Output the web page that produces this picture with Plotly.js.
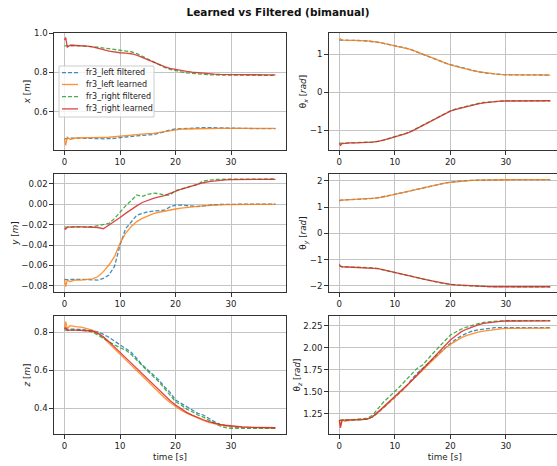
<!DOCTYPE html>
<html><head><meta charset="utf-8">
<script src="https://cdn.plot.ly/plotly-3.0.1.min.js"></script>
<style>html,body{margin:0;padding:0;overflow:hidden;background:#fff}#chart{width:562px;height:466px}</style>
</head><body><div id="chart"></div><script>
// time grid (s)
const T = [0,0.2,0.5,1,2,3,4,5,6,7,8,9,10,11,12,13,14,15,16,17,18,19,20,21,22,23,24,25,26,27,28,29,30,32,34,36,38];

const seriesNames = ["fr3_left filtered","fr3_left learned","fr3_right filtered","fr3_right learned"];
const seriesColors = ["#1f77b4","#ff7f0e","#2ca02c","#d62728"];

// x [m]
const xLeftFiltered  = [0.462,0.463,0.464,0.465,0.466,0.466,0.466,0.465,0.463,0.462,0.462,0.464,0.468,0.472,0.475,0.477,0.479,0.481,0.484,0.490,0.499,0.507,0.512,0.514,0.516,0.517,0.518,0.519,0.519,0.518,0.517,0.516,0.515,0.515,0.514,0.514,0.514];
const xLeftLearned   = [0.462,0.428,0.470,0.458,0.466,0.466,0.467,0.467,0.468,0.469,0.470,0.473,0.476,0.479,0.482,0.484,0.486,0.488,0.490,0.494,0.500,0.505,0.509,0.511,0.512,0.513,0.514,0.514,0.514,0.515,0.515,0.515,0.515,0.515,0.515,0.515,0.515];
const xRightFiltered = [0.935,0.936,0.936,0.937,0.937,0.936,0.934,0.931,0.928,0.924,0.920,0.917,0.914,0.910,0.905,0.896,0.882,0.866,0.851,0.838,0.826,0.816,0.808,0.803,0.798,0.795,0.792,0.790,0.788,0.787,0.786,0.786,0.786,0.786,0.785,0.785,0.785];
const xRightLearned  = [0.965,0.978,0.928,0.938,0.937,0.936,0.934,0.930,0.924,0.916,0.908,0.903,0.900,0.898,0.895,0.888,0.876,0.862,0.849,0.838,0.829,0.821,0.815,0.810,0.805,0.801,0.798,0.795,0.793,0.791,0.790,0.789,0.789,0.788,0.788,0.787,0.787];

// theta_x [rad]
const txLeftFiltered  = [1.37,1.37,1.37,1.365,1.36,1.36,1.355,1.345,1.335,1.31,1.28,1.25,1.22,1.195,1.16,1.11,1.05,0.99,0.93,0.875,0.825,0.77,0.725,0.685,0.645,0.605,0.57,0.54,0.51,0.49,0.475,0.465,0.457,0.452,0.45,0.45,0.45];
const txLeftLearned   = [1.37,1.40,1.37,1.37,1.365,1.36,1.355,1.35,1.335,1.315,1.285,1.255,1.225,1.20,1.17,1.12,1.06,1.00,0.94,0.88,0.83,0.77,0.72,0.675,0.635,0.60,0.565,0.54,0.515,0.495,0.48,0.47,0.46,0.455,0.452,0.45,0.45];
const txRightFiltered = [-1.34,-1.345,-1.34,-1.34,-1.335,-1.33,-1.33,-1.325,-1.31,-1.29,-1.26,-1.21,-1.17,-1.13,-1.08,-1.02,-0.945,-0.865,-0.785,-0.705,-0.63,-0.555,-0.492,-0.44,-0.40,-0.362,-0.328,-0.298,-0.272,-0.255,-0.242,-0.235,-0.231,-0.228,-0.227,-0.226,-0.226];
const txRightLearned  = [-1.34,-1.40,-1.35,-1.34,-1.335,-1.335,-1.33,-1.325,-1.315,-1.295,-1.265,-1.22,-1.175,-1.135,-1.09,-1.03,-0.955,-0.875,-0.795,-0.715,-0.64,-0.565,-0.50,-0.45,-0.41,-0.37,-0.335,-0.305,-0.28,-0.26,-0.245,-0.237,-0.232,-0.229,-0.227,-0.226,-0.226];

// y [m]
const yLeftFiltered  = [-0.0734,-0.0740,-0.0740,-0.0738,-0.0738,-0.0738,-0.0740,-0.0742,-0.0745,-0.0728,-0.0695,-0.0610,-0.0400,-0.0240,-0.0170,-0.0108,-0.0090,-0.0074,-0.0066,-0.0060,-0.0058,-0.0025,-0.0008,-0.0008,-0.0012,-0.0018,-0.0022,-0.0015,-0.0008,-0.0004,-0.0002,0.0000,0.0000,0.0001,0.0001,0.0001,0.0001];
const yLeftLearned   = [-0.0740,-0.0810,-0.0745,-0.0760,-0.0742,-0.0745,-0.0738,-0.0732,-0.0712,-0.0662,-0.0597,-0.0515,-0.0384,-0.0285,-0.0220,-0.0170,-0.0138,-0.0111,-0.0092,-0.0078,-0.0066,-0.0055,-0.0046,-0.0038,-0.0030,-0.0025,-0.0020,-0.0015,-0.0010,-0.0007,-0.0005,-0.0003,-0.0002,0.0000,0.0000,0.0000,0.0000];
const yRightFiltered = [-0.0225,-0.0225,-0.0222,-0.0222,-0.0222,-0.0222,-0.0222,-0.0220,-0.0210,-0.0197,-0.0188,-0.0140,-0.0072,-0.0015,0.0035,0.0092,0.0078,0.0098,0.0110,0.0105,0.0092,0.0090,0.0135,0.0150,0.0164,0.0180,0.0197,0.0230,0.0240,0.0244,0.0246,0.0247,0.0248,0.0249,0.0249,0.0249,0.0249];
const yRightLearned  = [-0.0235,-0.0245,-0.0225,-0.0222,-0.0222,-0.0222,-0.0222,-0.0222,-0.0228,-0.0240,-0.0205,-0.0170,-0.0130,-0.0089,-0.0050,-0.0015,0.0018,0.0040,0.0058,0.0072,0.0085,0.0108,0.0130,0.0148,0.0164,0.0181,0.0197,0.0212,0.0223,0.0230,0.0236,0.0240,0.0243,0.0245,0.0246,0.0246,0.0246];

// theta_y [rad]
const tyLeftFiltered  = [1.24,1.26,1.265,1.27,1.275,1.285,1.295,1.305,1.325,1.355,1.395,1.44,1.485,1.525,1.565,1.62,1.675,1.725,1.775,1.825,1.875,1.91,1.945,1.97,1.99,2.005,2.015,2.025,2.03,2.035,2.04,2.04,2.04,2.04,2.04,2.04,2.04];
const tyLeftLearned   = [1.21,1.27,1.265,1.27,1.275,1.285,1.295,1.305,1.32,1.35,1.39,1.435,1.48,1.52,1.56,1.615,1.67,1.72,1.77,1.82,1.87,1.905,1.94,1.965,1.99,2.005,2.015,2.025,2.03,2.035,2.04,2.04,2.04,2.04,2.04,2.04,2.04];
const tyRightFiltered = [-1.22,-1.26,-1.27,-1.275,-1.28,-1.285,-1.29,-1.295,-1.31,-1.345,-1.395,-1.44,-1.485,-1.535,-1.585,-1.635,-1.685,-1.735,-1.785,-1.83,-1.875,-1.91,-1.945,-1.965,-1.98,-1.995,-2.005,-2.015,-2.02,-2.025,-2.03,-2.03,-2.03,-2.03,-2.03,-2.03,-2.03];
const tyRightLearned  = [-1.18,-1.25,-1.27,-1.275,-1.28,-1.285,-1.29,-1.295,-1.305,-1.34,-1.39,-1.435,-1.48,-1.53,-1.58,-1.63,-1.68,-1.73,-1.78,-1.825,-1.87,-1.905,-1.94,-1.96,-1.975,-1.99,-2.0,-2.01,-2.02,-2.025,-2.03,-2.03,-2.03,-2.03,-2.03,-2.03,-2.03];

// z [m]
const zLeftFiltered  = [0.818,0.818,0.818,0.818,0.817,0.815,0.812,0.808,0.803,0.789,0.774,0.754,0.733,0.712,0.695,0.663,0.628,0.602,0.575,0.549,0.514,0.484,0.444,0.426,0.409,0.391,0.374,0.365,0.347,0.330,0.316,0.307,0.302,0.299,0.298,0.298,0.298];
const zLeftLearned   = [0.821,0.856,0.820,0.835,0.830,0.827,0.820,0.812,0.796,0.772,0.742,0.713,0.684,0.656,0.628,0.599,0.570,0.541,0.512,0.484,0.456,0.431,0.409,0.390,0.374,0.360,0.347,0.336,0.326,0.318,0.312,0.308,0.305,0.301,0.299,0.298,0.298];
const zRightFiltered = [0.812,0.812,0.812,0.812,0.812,0.811,0.808,0.803,0.786,0.768,0.747,0.733,0.719,0.707,0.684,0.654,0.625,0.596,0.567,0.540,0.505,0.474,0.435,0.418,0.396,0.382,0.365,0.354,0.339,0.321,0.307,0.298,0.295,0.295,0.295,0.295,0.295];
const zRightLearned  = [0.818,0.825,0.810,0.812,0.812,0.811,0.810,0.807,0.795,0.777,0.751,0.723,0.695,0.666,0.637,0.609,0.581,0.552,0.523,0.495,0.467,0.441,0.418,0.397,0.379,0.364,0.351,0.340,0.330,0.322,0.316,0.311,0.307,0.302,0.300,0.299,0.298];

// theta_z [rad]
const tzLeftFiltered  = [1.175,1.175,1.175,1.176,1.178,1.180,1.183,1.190,1.214,1.262,1.318,1.376,1.434,1.494,1.556,1.640,1.708,1.765,1.825,1.885,1.945,2.000,2.049,2.095,2.136,2.165,2.189,2.202,2.212,2.220,2.227,2.228,2.228,2.228,2.228,2.228,2.228];
const tzLeftLearned   = [1.175,1.120,1.180,1.165,1.178,1.180,1.183,1.190,1.216,1.265,1.322,1.379,1.436,1.497,1.557,1.620,1.682,1.747,1.811,1.874,1.936,1.990,2.038,2.078,2.114,2.140,2.163,2.177,2.189,2.199,2.208,2.214,2.220,2.222,2.222,2.222,2.222];
const tzRightFiltered = [1.175,1.175,1.175,1.178,1.180,1.186,1.190,1.197,1.235,1.310,1.386,1.443,1.500,1.566,1.633,1.700,1.765,1.803,1.879,1.945,2.011,2.078,2.144,2.178,2.212,2.235,2.258,2.273,2.288,2.296,2.303,2.305,2.306,2.307,2.307,2.307,2.307];
const tzRightLearned  = [1.178,1.090,1.178,1.178,1.178,1.180,1.183,1.190,1.216,1.273,1.330,1.386,1.443,1.500,1.557,1.623,1.690,1.756,1.822,1.889,1.955,2.021,2.087,2.135,2.182,2.212,2.239,2.260,2.277,2.287,2.295,2.300,2.303,2.304,2.304,2.304,2.304];

// tick labels
const xTickVals = [0,10,20,30];
const xTickText = ["0","10","20","30"];
const xPosTickVals = [0.6,0.8,1.0];           const xPosTickText = ["0.6","0.8","1.0"];
const txTickVals = [-1,0,1];                  const txTickText = ["\u22121","0","1"];
const yPosTickVals = [-0.08,-0.06,-0.04,-0.02,0,0.02];
const yPosTickText = ["\u22120.08","\u22120.06","\u22120.04","\u22120.02","0.00","0.02"];
const tyTickVals = [-2,-1,0,1,2];             const tyTickText = ["\u22122","\u22121","0","1","2"];
const zPosTickVals = [0.4,0.6,0.8];           const zPosTickText = ["0.4","0.6","0.8"];
const tzTickVals = [1.25,1.5,1.75,2.0,2.25];  const tzTickText = ["1.25","1.50","1.75","2.00","2.25"];

const panels = [
  {ax:"", data:[xLeftFiltered,xLeftLearned,xRightFiltered,xRightLearned], title:"<i>x</i> [<i>m</i>]", range:[0.405,1.0005], tv:xPosTickVals, tt:xPosTickText, col:0, row:0},
  {ax:"2", data:[txLeftFiltered,txLeftLearned,txRightFiltered,txRightLearned], title:"θ<sub><i>x</i></sub> [<i>rad</i>]", range:[-1.52,1.555], tv:txTickVals, tt:txTickText, col:1, row:0},
  {ax:"3", data:[yLeftFiltered,yLeftLearned,yRightFiltered,yRightLearned], title:"<i>y</i> [<i>m</i>]", range:[-0.0862,0.0298], tv:yPosTickVals, tt:yPosTickText, col:0, row:1},
  {ax:"4", data:[tyLeftFiltered,tyLeftLearned,tyRightFiltered,tyRightLearned], title:"θ<sub><i>y</i></sub> [<i>rad</i>]", range:[-2.23,2.255], tv:tyTickVals, tt:tyTickText, col:1, row:1},
  {ax:"5", data:[zLeftFiltered,zLeftLearned,zRightFiltered,zRightLearned], title:"<i>z</i> [<i>m</i>]", range:[0.265,0.886], tv:zPosTickVals, tt:zPosTickText, col:0, row:2},
  {ax:"6", data:[tzLeftFiltered,tzLeftLearned,tzRightFiltered,tzRightLearned], title:"θ<sub><i>z</i></sub> [<i>rad</i>]", range:[1.02,2.36], tv:tzTickVals, tt:tzTickText, col:1, row:2}
];

const W = 562, H = 466;
const colDom = [[54/W, 286/W],[328.8/W, 560.8/W]];
const rowPx = [[33,150],[174,292],[316,434]];
const rowDom = rowPx.map(r => [(H - r[1])/H, (H - r[0])/H]);

const FONT = "DejaVu Sans, Liberation Sans, sans-serif";
const traces = [];
const shapes = [];
const annotations = [];
const layout = {
  width: W, height: H,
  margin: {l:0, r:0, t:0, b:0},
  paper_bgcolor: "#fff", plot_bgcolor: "#fff",
  font: {family: FONT, size: 8.6, color: "#222"},
  title: {text: "<b>Learned vs Filtered (bimanual)</b>", font: {family: FONT, size: 10.5, color: "#111"},
          x: 278/W, xref: "paper", xanchor: "center", y: (H-12)/H, yref: "paper", yanchor: "middle"},
  showlegend: false,
  shapes: shapes, annotations: annotations
};

panels.forEach((p, pi) => {
  const xa = "xaxis" + p.ax, ya = "yaxis" + p.ax;
  const common = {
    showline: true, mirror: true, linecolor: "#333", linewidth: 1.1,
    showgrid: true, gridcolor: "#c4c4c4", gridwidth: 1, zeroline: false,
    ticks: "outside", ticklen: 3.5, tickwidth: 1, tickcolor: "#333",
    tickfont: {family: FONT, size: 8.6, color: "#222"}, automargin: false
  };
  layout[xa] = Object.assign({}, common, {
    domain: colDom[p.col], range: [-1.9, 39.9], anchor: "y" + p.ax,
    tickmode: "array", tickvals: xTickVals, ticktext: xTickText
  });
  if (p.row === 2) layout[xa].title = {text: "time [s]", font: {family: FONT, size: 8.8, color: "#222"}, standoff: 3};
  layout[ya] = Object.assign({}, common, {
    domain: rowDom[p.row], range: p.range, anchor: "x" + p.ax,
    tickmode: "array", tickvals: p.tv, ticktext: p.tt,
    title: {text: p.title, font: {family: FONT, size: 8.8, color: "#222"}, standoff: 1}
  });
  p.data.forEach((vals, si) => {
    traces.push({
      type: "scatter", mode: "lines", x: T, y: vals,
      xaxis: "x" + p.ax, yaxis: "y" + p.ax,
      name: seriesNames[si], legendgroup: seriesNames[si],
      opacity: 0.85,
      line: {color: seriesColors[si], width: 1.3, dash: (si % 2 === 0) ? "4px,2px" : "solid"}
    });
  });
});

// legend box (drawn in the first panel, upper-left, matplotlib style)
const px = v => v / W, py = v => (H - v) / H;
shapes.push({type: "rect", xref: "paper", yref: "paper", x0: px(59), x1: px(154), y0: py(117), y1: py(66),
             fillcolor: "rgba(255,255,255,0.8)", line: {color: "#cccccc", width: 1}, layer: "above"});
const legRows = [72.7, 84.5, 96.7, 108.9];
seriesNames.forEach((nm, si) => {
  shapes.push({type: "line", xref: "paper", yref: "paper", x0: px(62), x1: px(78), y0: py(legRows[si]), y1: py(legRows[si]),
               line: {color: seriesColors[si], width: 1.3, dash: (si % 2 === 0) ? "4px,2px" : "solid"}, opacity: 0.85, layer: "above"});
  annotations.push({text: nm, xref: "paper", yref: "paper", x: px(84), y: py(legRows[si]), xanchor: "left", yanchor: "middle",
                    showarrow: false, font: {family: FONT, size: 8, color: "#222"}});
});

Plotly.newPlot("chart", traces, layout, {displayModeBar: false, staticPlot: true});
</script></body></html>
